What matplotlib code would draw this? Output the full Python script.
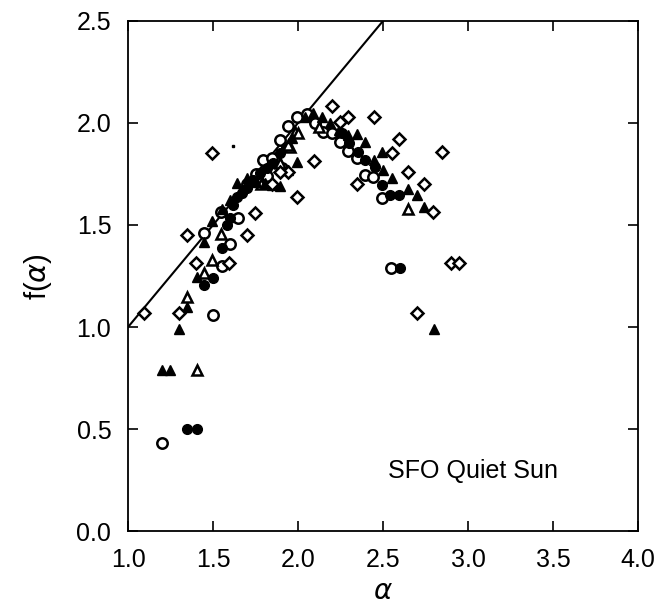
import matplotlib
matplotlib.use('Agg')
import matplotlib.pyplot as plt
import numpy as np

plt.rcParams['font.family'] = ['Liberation Sans', 'DejaVu Sans']

# open circles
oc_x = [1.198, 1.50, 1.551, 1.60, 1.649, 1.449, 1.545, 1.796, 1.845, 1.894, 1.943, 1.992,
        1.904, 2.05, 2.149, 2.198, 2.247, 2.296, 2.345, 2.394, 2.443, 2.492, 2.547, 1.70, 1.75,
        1.82, 2.10]
oc_y = [0.43, 1.06, 1.30, 1.405, 1.536, 1.459, 1.565, 1.819, 1.827, 1.917, 1.985, 2.028,
        1.778, 2.043, 1.957, 1.949, 1.908, 1.863, 1.827, 1.745, 1.737, 1.631, 1.289, 1.70, 1.75,
        1.74, 2.00]

# filled circles
fc_x = [1.349, 1.404, 1.447, 1.502, 1.551, 1.60, 1.639, 1.669, 1.698, 1.737, 1.776, 1.816,
        1.855, 1.894, 2.257, 2.355, 2.394, 2.453, 2.492, 2.541, 2.596, 2.60, 1.58, 1.62,
        1.93, 2.30]
fc_y = [0.503, 0.503, 1.207, 1.239, 1.386, 1.533, 1.639, 1.655, 1.68, 1.721, 1.753, 1.778,
        1.802, 1.851, 1.949, 1.859, 1.819, 1.786, 1.696, 1.647, 1.647, 1.289, 1.50, 1.60,
        1.88, 1.90]

# open triangles
ot_x = [1.349, 1.404, 1.545, 1.492, 1.449, 1.894, 1.953, 1.982, 1.943, 2.649, 2.0, 2.12, 1.78]
ot_y = [1.149, 0.79, 1.456, 1.328, 1.263, 1.802, 1.884, 1.957, 1.892, 1.577, 1.95, 1.98, 1.70]

# filled triangles
ft_x = [1.198, 1.249, 1.30, 1.349, 1.404, 1.447, 1.492, 1.639, 1.755, 1.806, 1.845, 1.894,
        1.943, 1.963, 1.992, 2.09, 2.139, 2.188, 2.243, 2.296, 2.345, 2.394, 2.449, 2.492,
        2.50, 2.551, 2.645, 2.698, 2.741, 2.80, 1.55, 1.60, 2.04, 1.70, 1.66]
ft_y = [0.789, 0.789, 0.989, 1.097, 1.244, 1.418, 1.521, 1.704, 1.712, 1.704, 1.696, 1.691,
        1.77, 1.925, 1.81, 2.047, 2.028, 1.998, 1.966, 1.941, 1.946, 1.908, 1.819, 1.855,
        1.77, 1.729, 1.675, 1.647, 1.587, 0.992, 1.58, 1.62, 2.03, 1.73, 1.66]

# open diamonds
od_x = [1.096, 1.30, 1.349, 1.40, 1.496, 1.596, 1.698, 1.747, 1.943, 1.894, 1.992, 2.096,
        2.198, 2.247, 2.296, 2.449, 2.345, 2.551, 2.596, 2.649, 2.743, 2.796, 2.845, 2.898,
        2.949, 2.70, 1.845]
od_y = [1.067, 1.067, 1.451, 1.312, 1.851, 1.312, 1.451, 1.557, 1.761, 1.761, 1.639, 1.814,
        2.083, 2.006, 2.031, 2.031, 1.702, 1.851, 1.922, 1.761, 1.702, 1.562, 1.855, 1.315,
        1.315, 1.067, 1.70]

dot_x = [1.616]
dot_y = [1.887]

line_x = [1.0, 2.5]
line_y = [1.0, 2.5]

fig = plt.figure(figsize=(6.6, 6.12), dpi=100)
ax = fig.add_axes([0.194, 0.132, 0.773, 0.834])

ax.plot(line_x, line_y, 'k-', linewidth=1.5)
ax.plot(oc_x, oc_y, 'o', mfc='white', mec='black', mew=1.8, ms=7.5, linestyle='none')
ax.plot(fc_x, fc_y, 'o', mfc='black', mec='black', ms=7, linestyle='none')
ax.plot(ot_x, ot_y, '^', mfc='white', mec='black', mew=1.8, ms=7.5, linestyle='none')
ax.plot(ft_x, ft_y, '^', mfc='black', mec='black', ms=7, linestyle='none')
ax.plot(od_x, od_y, 'D', mfc='white', mec='black', mew=1.8, ms=6.5, linestyle='none')
ax.plot(dot_x, dot_y, 's', color='black', ms=2, linestyle='none')

ax.set_xlim(1.0, 4.0)
ax.set_ylim(0.0, 2.5)
ax.set_xticks(np.arange(1.0, 4.01, 0.5))
ax.set_yticks(np.arange(0.0, 2.51, 0.5))
ax.set_xticklabels(['1.0', '1.5', '2.0', '2.5', '3.0', '3.5', '4.0'])
ax.set_yticklabels(['0.0', '0.5', '1.0', '1.5', '2.0', '2.5'])
ax.tick_params(direction='in', length=7, width=1.2, labelsize=18,
               top=True, right=True)
ax.tick_params(axis='y', pad=12)
ax.tick_params(axis='x', pad=12)
for s in ax.spines.values():
    s.set_linewidth(1.3)

ax.set_xlabel(r'$\alpha$', fontsize=20, labelpad=5)
ax.set_ylabel(r'f($\alpha$)', fontsize=21, labelpad=16)

ax.text(3.53, 0.26, 'SFO Quiet Sun', fontsize=18, ha='right', va='baseline')

fig.savefig('out.png', dpi=100)
